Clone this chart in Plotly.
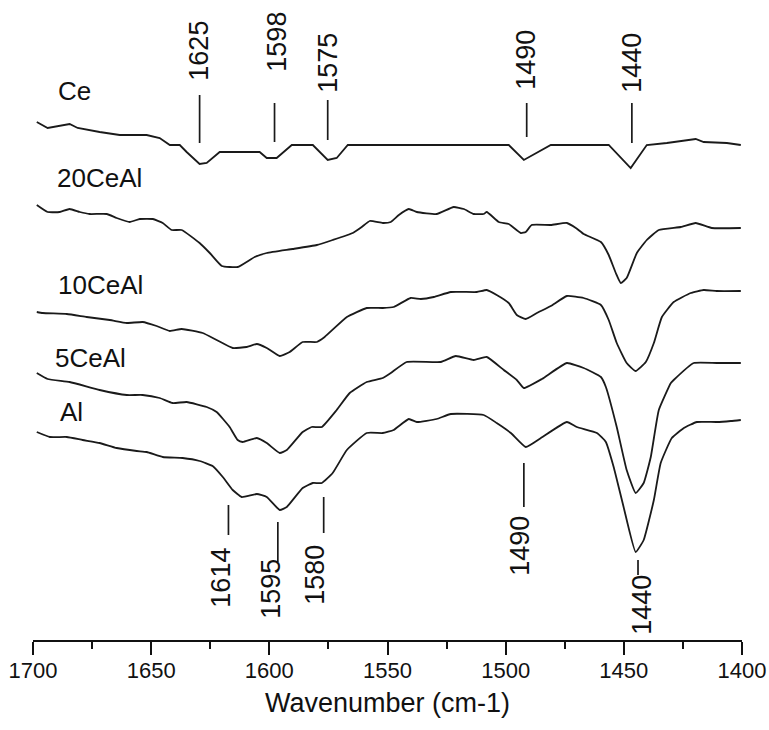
import plotly.graph_objects as go

# ---- data (wavenumber in cm-1, intensity in arbitrary offset units) ----
ce_w = [1698.4,1693.8,1684.5,1681.1,1671.8,1663.3,1651.9,1646.4,1642.1,1637.9,1635.0,1629.5,1626.5,1621.0,
        1604.1,1601.1,1596.9,1590.5,1581.6,1575.3,1571.5,1566.8,1498.7,1492.3,1480.9,1456.4,1447.1,1440.3,
        1431.8,1419.6,1416.2,1406.4,1400.5]
ce_y = [518,512,516,512,508,505,505,502,495,495,488,476,477,488,488,482,482,495,495,480,482,495,495,480,
        495,495,472,495,497,501,498,497,495]

ce20_w = [1698.4,1693.8,1688.7,1684.5,1680.2,1676.0,1668.8,1664.6,1659.1,1654.8,1649.3,1645.1,1641.3,1637.1,
          1629.5,1625.2,1620.1,1613.4,1606.2,1601.1,1590.1,1579.9,1573.2,1564.7,1560.9,1557.5,1552.0,1548.6,
          1545.2,1541.0,1537.6,1529.2,1522.0,1517.7,1513.5,1509.3,1508.0,1502.9,1498.7,1493.6,1491.5,1489.0,
          1480.9,1474.1,1470.3,1467.0,1459.7,1456.4,1453.4,1451.3,1448.8,1444.5,1440.3,1435.2,1425.9,1419.6,
          1412.8,1400.5]
ce20_y = [435,428,428,431,428,426,426,422,418,421,421,417,410,410,397,387,374,373,383,387,391,395,400,407,
          413,419,417,418,425,431,428,426,433,431,426,426,428,418,416,407,408,415,415,417,412,406,398,385,
          367,357,362,387,400,410,413,417,412,412]

ce10_w = [1698.4,1695.9,1685.7,1677.3,1667.5,1660.3,1653.6,1647.7,1642.1,1637.1,1628.2,1622.3,1615.5,1609.6,
          1605.3,1601.1,1595.6,1591.4,1585.9,1579.9,1576.6,1567.2,1558.8,1552.0,1547.4,1540.2,1535.9,1530.4,
          1523.2,1512.2,1508.0,1503.8,1498.7,1495.3,1491.5,1486.8,1480.9,1474.1,1467.0,1459.7,1456.4,1453.0,
          1448.8,1445.0,1440.7,1437.3,1433.9,1428.9,1421.7,1416.2,1410.7,1400.5]
ce10_y = [328,327,326,323,320,317,318,314,309,311,307,300,292,293,296,292,284,288,298,298,303,323,332,332,
          333,342,341,343,348,348,350,345,337,325,321,327,334,344,342,335,320,297,277,269,278,297,323,338,
          347,350,349,349]

ce5_w = [1698.4,1693.8,1684.5,1671.8,1660.3,1653.6,1646.4,1640.9,1635.0,1626.5,1622.3,1616.8,1613.4,1611.3,
         1605.3,1601.1,1595.6,1592.6,1585.9,1582.1,1577.8,1571.5,1566.0,1558.8,1552.0,1548.6,1541.9,1527.5,
         1521.1,1513.5,1508.0,1500.8,1495.3,1492.3,1484.7,1474.1,1467.0,1459.7,1457.6,1453.0,1448.8,1445.0,
         1441.6,1438.6,1435.2,1430.1,1428.9,1420.4,1410.7,1400.5]
ce5_y = [267,261,258,250,245,245,242,237,238,233,228,213,200,198,202,197,187,190,208,213,213,230,247,258,
         262,267,278,278,284,280,283,270,260,252,261,277,272,263,253,213,170,147,157,183,230,257,260,277,
         277,277]

al_w = [1698.4,1692.9,1685.7,1679.0,1671.8,1664.6,1656.1,1651.9,1645.1,1636.7,1629.5,1624.0,1619.7,1615.5,
        1611.7,1605.3,1601.1,1595.6,1592.6,1585.9,1581.6,1577.8,1573.2,1567.2,1558.8,1552.0,1547.4,1541.0,
        1537.6,1529.2,1523.2,1509.3,1503.8,1497.8,1491.5,1485.1,1474.1,1469.9,1461.4,1457.6,1454.3,1450.1,
        1445.0,1441.6,1437.3,1434.4,1429.7,1424.6,1419.1,1410.7,1404.7,1400.5]
al_y = [208,203,203,200,197,192,189,188,183,182,179,174,163,150,143,146,143,130,133,152,157,157,167,190,
        207,207,210,221,218,221,226,225,217,207,193,202,218,213,207,198,173,133,88,100,140,177,202,212,
        218,218,219,220]

series_names = ["Ce", "20CeAl", "10CeAl", "5CeAl", "Al"]
series_w = [ce_w, ce20_w, ce10_w, ce5_w, al_w]
series_y = [ce_y, ce20_y, ce10_y, ce5_y, al_y]
series_shape = ["linear", "spline", "spline", "spline", "spline"]
label_x = [1690.3, 1690.8, 1690.3, 1691.7, 1689.5]
label_y = [549, 462, 355, 282, 228]

# peak labels: text, label position, stick x, stick y range
top_peaks = ["1625", "1598", "1575", "1490", "1440"]
top_label_x = [1629.9, 1596.9, 1575.3, 1491.5, 1446.6]
top_label_y = [589, 598, 577, 580, 577]
top_stick_x = [1629.5, 1597.8, 1575.3, 1491.1, 1446.6]
top_stick_y0 = [497, 498, 500, 503, 497]
top_stick_y1 = [545, 537, 540, 537, 537]

bot_peaks = ["1614", "1595", "1580", "1490", "1440"]
bot_label_x = [1620.6, 1599.4, 1580.8, 1494.0, 1442.4]
bot_label_y = [62, 51, 65, 94, 35]
bot_stick_x = [1617.3, 1596.4, 1577.0, 1492.3, 1444.0]
bot_stick_y0 = [105, 78, 107, 133, 65]
bot_stick_y1 = [135, 118, 143, 177, 80]

FONT = "Arial, Liberation Sans, Helvetica, sans-serif"
LINE = "#1a1a1a"

fig = go.Figure()
for name, w, y, shp in zip(series_names, series_w, series_y, series_shape):
    line = dict(color=LINE, width=1.8, shape=shp)
    if shp == "spline":
        line["smoothing"] = 0.4
    fig.add_trace(go.Scatter(x=w, y=y, mode="lines", name=name, line=line,
                             showlegend=False, hoverinfo="skip"))

annotations = []
for t, x, y in zip(series_names, label_x, label_y):
    annotations.append(dict(x=x, y=y, xref="x", yref="y", text=t, showarrow=False,
                            xanchor="left", yanchor="middle",
                            font=dict(family=FONT, size=26, color="#111")))
for t, x, y in zip(top_peaks + bot_peaks, top_label_x + bot_label_x, top_label_y + bot_label_y):
    annotations.append(dict(x=x, y=y, xref="x", yref="y", text=t, showarrow=False,
                            textangle=-90, xanchor="center", yanchor="middle",
                            font=dict(family=FONT, size=27, color="#111")))

shapes = []
for x, y0, y1 in zip(top_stick_x + bot_stick_x, top_stick_y0 + bot_stick_y0, top_stick_y1 + bot_stick_y1):
    shapes.append(dict(type="line", xref="x", yref="y", x0=x, x1=x, y0=y0, y1=y1,
                       line=dict(color=LINE, width=1.7)))

fig.update_layout(
    width=769, height=730,
    margin=dict(l=33, r=27, t=0, b=90, autoexpand=False),
    paper_bgcolor="white", plot_bgcolor="white",
    annotations=annotations, shapes=shapes,
    font=dict(family=FONT, color="#111"),
)
fig.update_xaxes(
    range=[1700, 1400], showline=True, linecolor="#111", linewidth=2.4,
    ticks="outside", ticklen=13, tickwidth=2.4, tickcolor="#111",
    tick0=1400, dtick=50, showgrid=False, zeroline=False, automargin=False,
    minor=dict(ticks="outside", ticklen=7, tickwidth=2, tickcolor="#111", dtick=25, showgrid=False),
    tickfont=dict(family=FONT, size=22, color="#111"), ticklabelstandoff=-4,
    ticklabeloverflow="allow",
    title=dict(text="Wavenumber (cm-1)", font=dict(family=FONT, size=27, color="#111"), standoff=12),
)
fig.update_yaxes(range=[0, 640], visible=False, showgrid=False, zeroline=False, automargin=False)

# remove the default page margin so the 769x730 figure fills the window exactly
fig.write_html("out.html", config={"displayModeBar": False},
               post_script="document.body.style.margin='0';document.body.style.overflow='hidden';")
